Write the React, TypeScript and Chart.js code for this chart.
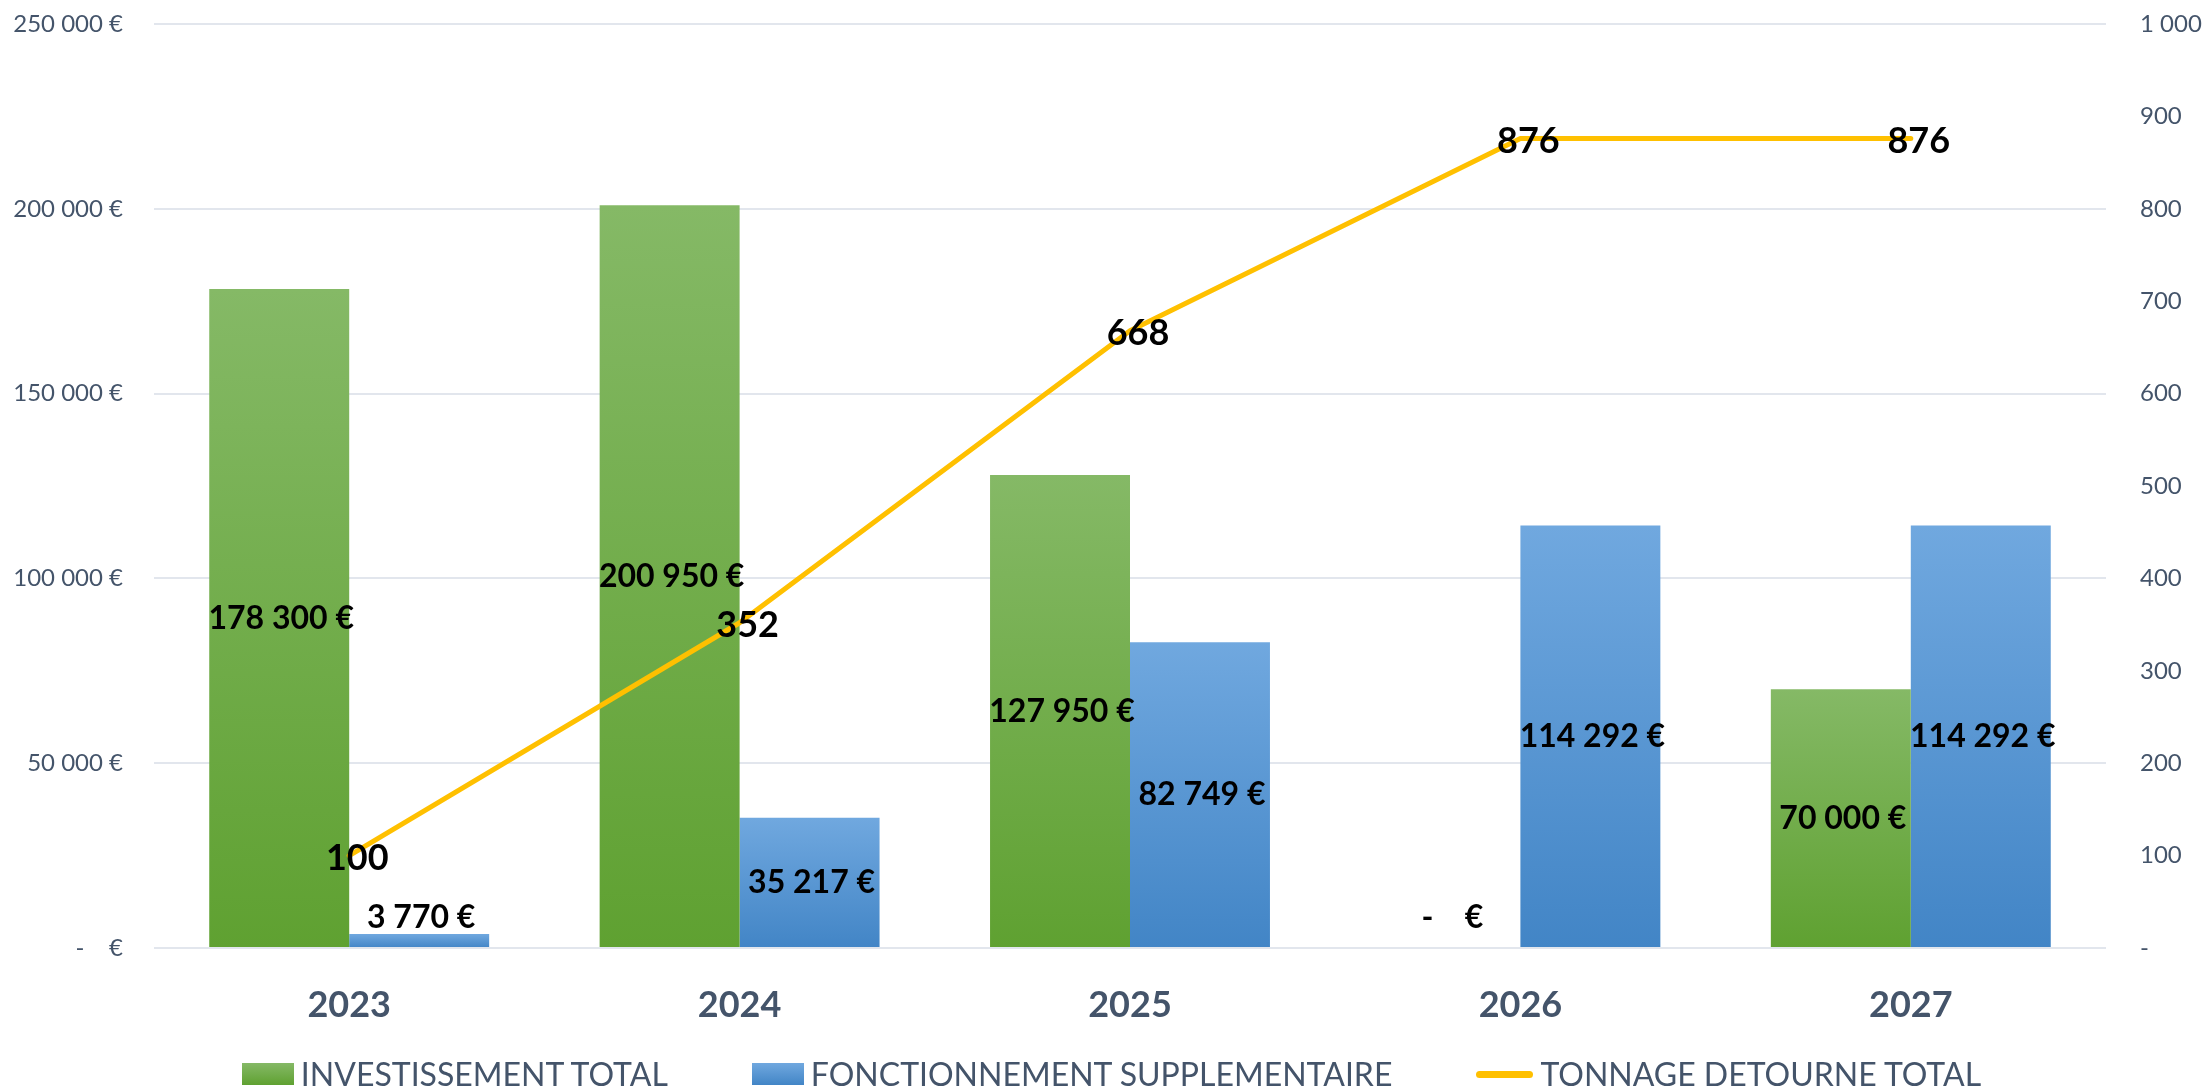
import React, { useEffect, useRef } from 'react';
import { Chart, registerables } from 'chart.js';

Chart.register(...registerables);

// ---- Data ----
const categories = ['2023', '2024', '2025', '2026', '2027'];
const investissement = [178300, 200950, 127950, 0, 70000];
const fonctionnement = [3770, 35217, 82749, 114292, 114292];
const tonnage = [100, 352, 668, 876, 876];
const seriesNames = ['INVESTISSEMENT TOTAL', 'FONCTIONNEMENT SUPPLEMENTAIRE', 'TONNAGE DETOURNE TOTAL'];
const leftTickValues = [0, 50000, 100000, 150000, 200000, 250000];
const leftTickLabels = ['-    €', '50 000 €', '100 000 €', '150 000 €', '200 000 €', '250 000 €'];
const rightTickValues = [0, 100, 200, 300, 400, 500, 600, 700, 800, 900, 1000];
const rightTickLabels = ['-', '100', '200', '300', '400', '500', '600', '700', '800', '900', '1 000'];

// ---- Styles ----
const FONT = 'Lato';
const SLATE = '#44546A';
const GREEN_TOP = '#85B966';
const GREEN_BOTTOM = '#5FA131';
const BLUE_TOP = '#70A8DF';
const BLUE_BOTTOM = '#4285C6';
const YELLOW = '#FFC000';
const GRID = '#E2E6ED';

const fmtEuro = (v: number) =>
  v === 0 ? '-    €' : String(Math.round(v)).replace(/\B(?=(\d{3})+(?!\d))/g, ' ') + ' €';

const barGradient = (top: string, bottom: string) => (ctx: any) => {
  const chart = ctx.chart;
  if (!chart.chartArea || ctx.type !== 'data') return bottom;
  const y = chart.scales.y;
  const v = ctx.raw as number;
  const yTop = y.getPixelForValue(v);
  const yBot = y.getPixelForValue(0);
  if (Math.abs(yBot - yTop) < 1) return bottom;
  const g = chart.ctx.createLinearGradient(0, yTop, 0, yBot);
  g.addColorStop(0, top);
  g.addColorStop(1, bottom);
  return g;
};

const labelPlugin = {
  id: 'valueLabels',
  afterDatasetsDraw(chart: any) {
    const c = chart.ctx;
    const base = chart.scales.y.getPixelForValue(0);
    c.save();
    c.fillStyle = '#000000';
    c.textAlign = 'center';
    c.textBaseline = 'middle';
    c.font = `bold 32px ${FONT}`;
    [0, 1].forEach((di) => {
      const meta = chart.getDatasetMeta(di);
      meta.data.forEach((el: any, i: number) => {
        const v = chart.data.datasets[di].data[i] as number;
        const cy = Math.min((el.y + base) / 2, base - 30);
        c.fillText(fmtEuro(v), el.x + 2, cy);
      });
    });
    c.font = `bold 36px ${FONT}`;
    const lm = chart.getDatasetMeta(2);
    lm.data.forEach((el: any, i: number) => {
      c.fillText(String(tonnage[i]), el.x + 8, el.y + 3);
    });
    c.restore();
  },
};

export default function App() {
  const canvasRef = useRef<HTMLCanvasElement | null>(null);

  useEffect(() => {
    document.body.style.margin = '0';
    const canvas = canvasRef.current;
    if (!canvas) return;
    const chart = new Chart(canvas, {
      type: 'bar',
      data: {
        labels: categories,
        datasets: [
          {
            type: 'bar',
            label: seriesNames[0],
            data: investissement,
            backgroundColor: barGradient(GREEN_TOP, GREEN_BOTTOM),
            yAxisID: 'y',
            order: 1,
            barPercentage: 1,
            categoryPercentage: 0.717,
          },
          {
            type: 'bar',
            label: seriesNames[1],
            data: fonctionnement,
            backgroundColor: barGradient(BLUE_TOP, BLUE_BOTTOM),
            yAxisID: 'y',
            order: 1,
            barPercentage: 1,
            categoryPercentage: 0.717,
          },
          {
            type: 'line',
            label: seriesNames[2],
            data: tonnage,
            borderColor: YELLOW,
            backgroundColor: YELLOW,
            borderWidth: 5,
            borderCapStyle: 'round',
            borderJoinStyle: 'round',
            pointRadius: 0,
            tension: 0,
            yAxisID: 'y1',
            order: 0,
          } as any,
        ],
      },
      options: {
        responsive: false,
        animation: false,
        devicePixelRatio: 1,
        layout: { padding: { top: 24, left: 0, right: 0, bottom: 60 } },
        plugins: {
          legend: { display: false },
          tooltip: { enabled: false },
        },
        scales: {
          x: {
            grid: { display: false, drawTicks: false },
            border: { display: false },
            ticks: {
              color: SLATE,
              font: { family: FONT, size: 36, weight: 'bold' },
              padding: 36,
            },
            afterFit: (s: any) => {
              s.height = 80;
            },
          },
          y: {
            position: 'left',
            min: 0,
            max: 250000,
            afterBuildTicks: (s: any) => {
              s.ticks = leftTickValues.map((v) => ({ value: v }));
            },
            grid: { color: GRID, lineWidth: 2, drawTicks: false },
            border: { display: false },
            ticks: {
              color: SLATE,
              font: { family: FONT, size: 24 },
              padding: 31,
              callback: (_v: any, i: number) => leftTickLabels[i],
            },
            afterFit: (s: any) => {
              s.width = 154;
              s.paddingTop = 0;
              s.paddingBottom = 0;
            },
          },
          y1: {
            position: 'right',
            min: 0,
            max: 1000,
            afterBuildTicks: (s: any) => {
              s.ticks = rightTickValues.map((v) => ({ value: v }));
            },
            grid: { display: false, drawTicks: false },
            border: { display: false },
            ticks: {
              color: SLATE,
              font: { family: FONT, size: 24 },
              padding: 34,
              callback: (_v: any, i: number) => rightTickLabels[i],
            },
            afterFit: (s: any) => {
              s.width = 97;
              s.paddingTop = 0;
              s.paddingBottom = 0;
            },
          },
        },
      },
      plugins: [labelPlugin],
    });
    return () => chart.destroy();
  }, []);

  const legendItems = [
    { name: seriesNames[0], kind: 'box', bg: `linear-gradient(${GREEN_TOP}, ${GREEN_BOTTOM})` },
    { name: seriesNames[1], kind: 'box', bg: `linear-gradient(${BLUE_TOP}, ${BLUE_BOTTOM})` },
    { name: seriesNames[2], kind: 'line', bg: YELLOW },
  ];

  return (
    <div style={{ position: 'relative', width: 2203, height: 1088, background: '#ffffff' }}>
      <canvas ref={canvasRef} width={2203} height={1088} style={{ width: 2203, height: 1088, display: 'block' }} />
      <div
        style={{
          position: 'absolute',
          left: 0,
          width: 2203,
          boxSizing: 'border-box',
          paddingLeft: 20,
          top: 1054,
          height: 40,
          display: 'flex',
          justifyContent: 'center',
          alignItems: 'center',
          gap: 84,
          fontFamily: FONT,
          fontSize: 32,
          color: SLATE,
          whiteSpace: 'nowrap',
          lineHeight: '40px',
        }}
      >
        {legendItems.map((it) => (
          <div key={it.name} style={{ display: 'flex', alignItems: 'center', gap: 7 }}>
            {it.kind === 'box' ? (
              <span style={{ display: 'inline-block', width: 52, height: 22, background: it.bg }} />
            ) : (
              <span style={{ display: 'inline-block', width: 57, height: 7, borderRadius: 4, background: it.bg }} />
            )}
            <span>{it.name}</span>
          </div>
        ))}
      </div>
    </div>
  );
}
